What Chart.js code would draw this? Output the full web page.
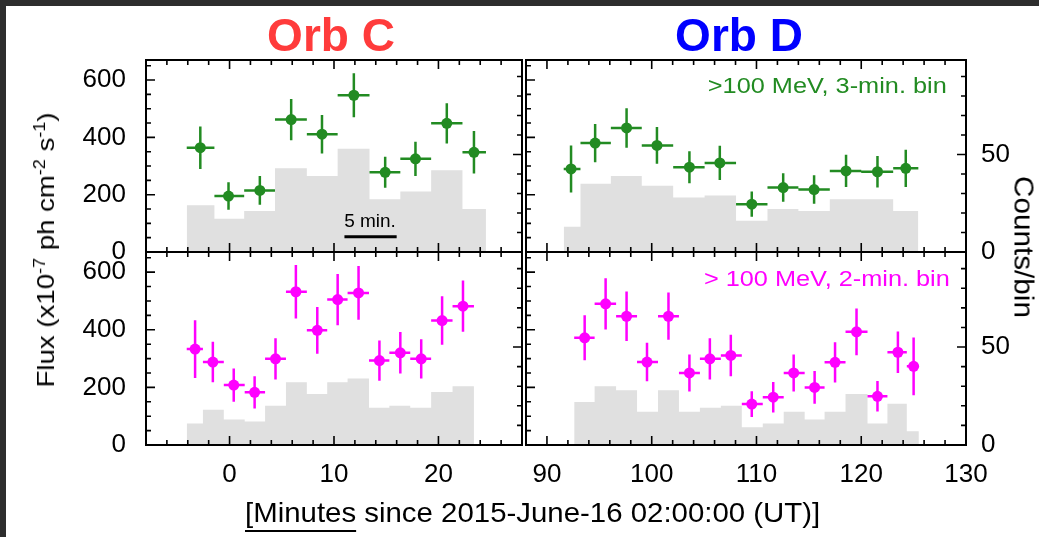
<!DOCTYPE html>
<html>
<head>
<meta charset="utf-8">
<script src="https://cdn.jsdelivr.net/npm/chart.js@4.4.0/dist/chart.umd.min.js"></script>
<style>
  html, body { margin: 0; padding: 0; }
  body { width: 1039px; height: 537px; background: #2d2d2d; position: relative; overflow: hidden;
         font-family: "Liberation Sans", Arial, sans-serif; }
  #sheet { position: absolute; left: 6px; top: 6px; right: 0; bottom: 0; background: #fff; }
  canvas { position: absolute; left: 0; top: 0; }
  .lbl { position: absolute; white-space: nowrap; line-height: 1; }
  .orb { font-weight: bold; font-size: 46px; top: 12px; transform: translateX(-50%); }
  .note { font-size: 22px; transform: scaleX(1.15); transform-origin: right center; }
  sup { font-size: 65%; vertical-align: 0.55em; line-height: 0; }
</style>
</head>
<body>
<div id="sheet"></div>
<canvas id="cTL" width="1039" height="537"></canvas>
<canvas id="cTR" width="1039" height="537"></canvas>
<canvas id="cBL" width="1039" height="537"></canvas>
<canvas id="cBR" width="1039" height="537"></canvas>

<div class="lbl orb" style="left:331px; color:#ff3b3b;">Orb C</div>
<div class="lbl orb" style="left:739px; color:#0000ff;">Orb D</div>
<div class="lbl note" style="right:92px; top:75px; color:#228b22;">&gt;100 MeV, 3-min. bin</div>
<div class="lbl note" style="right:89px; top:268px; color:#ff00ff;">&gt; 100 MeV, 2-min. bin</div>
<div class="lbl" style="left:370px; top:211px; font-size:19px; transform:translateX(-50%);">5 min.</div>
<div class="lbl" style="left:46px; top:250px; font-size:24px; transform:translate(-50%,-50%) rotate(-90deg) scaleX(1.15);">Flux (x10<sup>-7</sup> ph cm<sup>-2</sup> s<sup>-1</sup>)</div>
<div class="lbl" style="left:1023px; top:247px; font-size:27px; transform:translate(-50%,-50%) rotate(90deg) scaleX(1.1);">Counts/bin</div>
<div class="lbl" style="left:245px; top:499px; font-size:28px; transform:scaleX(1.05); transform-origin:left center;"><span style="text-decoration:underline; text-decoration-thickness:2px; text-underline-offset:8px;">[Minutes</span> since 2015-June-16 02:00:00 (UT)]</div>

<script>
// Orb C, >100 MeV, 3-min bins
const c3Time = [-2.8, -0.1, 2.9, 5.9, 8.85, 11.9, 14.9, 17.8, 20.8, 23.4];
const c3Flux = [364, 195, 215, 462, 411, 547, 278, 325, 449, 348];
const c3Err = [74, 48, 50, 72, 67, 77, 54, 60, 70, 74];
const c3Edges = [-4.1, -1.45, 1.4, 4.35, 7.4, 10.35, 13.4, 16.35, 19.3, 22.3, 24.55];
const c3Counts = [24, 17, 21, 43, 39, 53, 27, 31, 42, 22];

// Orb D, >100 MeV, 3-min bins
const d3Time = [92.3, 94.6, 97.6, 100.5, 103.6, 106.5, 109.55, 112.55, 115.5, 118.55, 121.55, 124.25];
const d3Flux = [290, 380, 433, 372, 296, 311, 167, 225, 218, 283, 280, 292];
const d3Err = [82, 67, 69, 64, 56, 60, 44, 50, 50, 56, 55, 65];
const d3Edges = [91.6, 93.2, 96.1, 99.05, 102.05, 105.05, 108.05, 111.05, 114.0, 117.0, 120.0, 123.05, 125.45];
const d3Counts = [13, 35, 39, 34, 28, 29, 16, 22, 21, 27, 27, 21];

// Orb C, >100 MeV, 2-min bins
const c2Time = [-3.3, -1.6, 0.4, 2.4, 4.4, 6.35, 8.4, 10.35, 12.35, 14.35, 16.35, 18.35, 20.35, 22.35];
const c2Flux = [333, 288, 208, 183, 299, 532, 398, 505, 528, 293, 320, 299, 432, 482];
const c2Err = [100, 70, 58, 56, 72, 93, 81, 89, 93, 70, 72, 68, 84, 89];
const c2Edges = [-4.1, -2.55, -0.55, 1.45, 3.4, 5.4, 7.4, 9.35, 11.3, 13.35, 15.3, 17.3, 19.3, 21.35, 23.4];
const c2Counts = [11, 18, 13, 12, 20, 32, 26, 32, 34, 19, 20, 19, 27, 30];

// Orb D, >100 MeV, 2-min bins
const d2Time = [93.6, 95.6, 97.6, 99.55, 101.6, 103.6, 105.55, 107.55, 109.55, 111.6, 113.55, 115.55, 117.5, 119.55, 121.55, 123.5, 125.0];
const d2Flux = [372, 490, 447, 288, 447, 250, 299, 311, 142, 166, 250, 200, 287, 393, 169, 322, 273];
const d2Err = [78, 89, 86, 67, 82, 64, 72, 72, 45, 53, 64, 57, 70, 81, 53, 72, 100];
const d2Edges = [92.6, 94.55, 96.6, 98.6, 100.6, 102.6, 104.6, 106.6, 108.6, 110.6, 112.6, 114.6, 116.5, 118.5, 120.6, 122.5, 124.35, 125.5];
const d2Counts = [22, 30, 28, 17, 28, 17, 19, 20, 9, 11, 17, 13, 17, 26, 11, 21, 7];

// axes
const fluxTicks = [0, 200, 400, 600];
const countTicks = [0, 50];
const xTicksC = [0, 10, 20];
const xTicksD = [90, 100, 110, 120, 130];
const scaleBarX = [11, 16];
const scaleBarY = 53;

const GREEN = '#228b22';
const MAGENTA = '#ff00ff';
const GREY = '#e0e0e0';
const FONT = { family: '"Liberation Sans", Arial, sans-serif', size: 26 };

// inward ticks on all four sides plus the frame
const frameTicks = {
    id: 'frameTicks',
    afterDatasetsDraw(chart) {
        const { ctx, chartArea: a, scales } = chart;
        const steps = (scale, minor) => {
            const out = [];
            for (let k = Math.ceil(scale.min / minor - 1e-9); k * minor <= scale.max + 1e-9; k++) out.push(k * minor);
            return out;
        };
        const isMajor = (v, major) => Math.abs(v / major - Math.round(v / major)) < 1e-6;
        ctx.save();
        ctx.strokeStyle = '#000';
        ctx.lineWidth = 1.6;
        ctx.beginPath();
        steps(scales.x, 2).forEach(v => {
            const p = scales.x.getPixelForValue(v);
            const len = isMajor(v, 10) ? 9 : 5;
            ctx.moveTo(p, a.bottom); ctx.lineTo(p, a.bottom - len);
            ctx.moveTo(p, a.top); ctx.lineTo(p, a.top + len);
        });
        steps(scales.y, 50).forEach(v => {
            const p = scales.y.getPixelForValue(v);
            const len = isMajor(v, 200) ? 9 : 5;
            ctx.moveTo(a.left, p); ctx.lineTo(a.left + len, p);
        });
        steps(scales.y2, 10).forEach(v => {
            const p = scales.y2.getPixelForValue(v);
            const len = isMajor(v, 50) ? 9 : 5;
            ctx.moveTo(a.right, p); ctx.lineTo(a.right - len, p);
        });
        ctx.stroke();
        ctx.lineWidth = 2;
        ctx.strokeRect(a.left, a.top, a.right - a.left, a.bottom - a.top);
        ctx.restore();
    }
};

function histData(edges, counts) {
    const pts = counts.map((c, i) => ({ x: edges[i], y: c }));
    pts.push({ x: edges[edges.length - 1], y: counts[counts.length - 1] });
    return pts;
}

function xErrData(edges, flux) {
    const pts = [];
    flux.forEach((f, i) => {
        pts.push({ x: edges[i], y: f }, { x: edges[i + 1], y: f }, { x: edges[i + 1], y: null });
    });
    return pts;
}

function yErrData(time, flux, err) {
    const pts = [];
    time.forEach((t, i) => {
        pts.push({ x: t, y: flux[i] - err[i] }, { x: t, y: flux[i] + err[i] }, { x: t, y: null });
    });
    return pts;
}

function makePanel(id, p) {
    const datasets = [
        {
            data: p.time.map((t, i) => ({ x: t, y: p.flux[i] })),
            showLine: false, pointRadius: 5.5, pointBorderWidth: 0,
            pointBackgroundColor: p.color, order: 0
        },
        {
            data: xErrData(p.edges, p.flux),
            borderColor: p.color, borderWidth: 2.5, pointRadius: 0, spanGaps: false, order: 1
        },
        {
            data: yErrData(p.time, p.flux, p.err),
            borderColor: p.color, borderWidth: 2.5, pointRadius: 0, spanGaps: false, order: 1
        },
        {
            data: histData(p.edges, p.counts), yAxisID: 'y2',
            stepped: true, fill: 'origin', backgroundColor: GREY,
            borderColor: 'rgba(0,0,0,0)', borderWidth: 1, pointRadius: 0, order: 3
        }
    ];
    if (p.scaleBar) {
        datasets.push({
            data: scaleBarX.map(x => ({ x: x, y: scaleBarY })),
            borderColor: '#000', borderWidth: 3, pointRadius: 0, order: 1
        });
    }
    return new Chart(document.getElementById(id), {
        type: 'line',
        data: { datasets: datasets },
        options: {
            responsive: false,
            animation: false,
            events: [],
            layout: { padding: p.pad },
            plugins: { legend: { display: false }, tooltip: { enabled: false } },
            scales: {
                x: {
                    type: 'linear', min: p.xMin, max: p.xMax, display: p.showX,
                    grid: { display: false }, border: { display: false },
                    ticks: { font: FONT, color: '#000', padding: 6, maxRotation: 0 },
                    afterBuildTicks: s => { s.ticks = p.xTicks.map(v => ({ value: v })); },
                    afterFit: s => { if (p.showX) s.height = 50; }
                },
                y: {
                    type: 'linear', position: 'left', min: 0, max: 670, display: p.showY,
                    grid: { display: false }, border: { display: false },
                    ticks: { font: FONT, color: '#000', padding: 12 },
                    afterBuildTicks: s => { s.ticks = fluxTicks.map(v => ({ value: v })); },
                    afterFit: s => { if (p.showY) s.width = 100; }
                },
                y2: {
                    type: 'linear', position: 'right', min: 0, max: 98.5, display: p.showY2,
                    grid: { display: false }, border: { display: false },
                    ticks: { font: FONT, color: '#000', padding: 7 },
                    afterBuildTicks: s => { s.ticks = countTicks.map(v => ({ value: v })); },
                    afterFit: s => { if (p.showY2) s.width = 50; }
                }
            }
        },
        plugins: [frameTicks]
    });
}

makePanel('cTL', {
    time: c3Time, flux: c3Flux, err: c3Err, edges: c3Edges, counts: c3Counts, color: GREEN,
    xMin: -8, xMax: 28, xTicks: xTicksC, showX: false, showY: true, showY2: false, scaleBar: true,
    pad: { left: 46, right: 517, top: 60, bottom: 285 }
});
makePanel('cTR', {
    time: d3Time, flux: d3Flux, err: d3Err, edges: d3Edges, counts: d3Counts, color: GREEN,
    xMin: 88, xMax: 130, xTicks: xTicksD, showX: false, showY: false, showY2: true,
    pad: { left: 526, right: 23, top: 60, bottom: 285 }
});
makePanel('cBL', {
    time: c2Time, flux: c2Flux, err: c2Err, edges: c2Edges, counts: c2Counts, color: MAGENTA,
    xMin: -8, xMax: 28, xTicks: xTicksC, showX: true, showY: true, showY2: false,
    pad: { left: 46, right: 517, top: 252, bottom: 42 }
});
makePanel('cBR', {
    time: d2Time, flux: d2Flux, err: d2Err, edges: d2Edges, counts: d2Counts, color: MAGENTA,
    xMin: 88, xMax: 130, xTicks: xTicksD, showX: true, showY: false, showY2: true,
    pad: { left: 526, right: 23, top: 252, bottom: 42 }
});
</script>
</body>
</html>
